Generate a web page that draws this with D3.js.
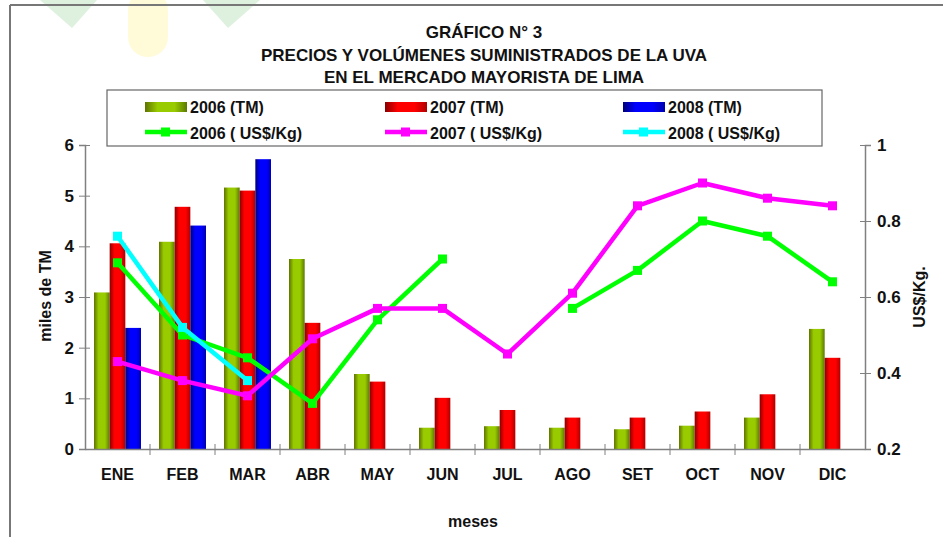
<!DOCTYPE html>
<html>
<head>
<meta charset="utf-8">
<script src="https://cdn.jsdelivr.net/npm/d3@7"></script>
<style>
  body { margin: 0; background: #fff; }
  text { font-family: "Liberation Sans", Arial, sans-serif; font-weight: bold; fill: #111; }
</style>
</head>
<body>
<div id="chart"></div>
<script>
// data
const months = ["ENE", "FEB", "MAR", "ABR", "MAY", "JUN", "JUL", "AGO", "SET", "OCT", "NOV", "DIC"];
const tm2006 = [3.09, 4.09, 5.16, 3.75, 1.48, 0.42, 0.45, 0.42, 0.39, 0.46, 0.62, 2.37];
const tm2007 = [4.06, 4.78, 5.10, 2.49, 1.33, 1.01, 0.77, 0.62, 0.62, 0.74, 1.08, 1.80];
const tm2008 = [2.39, 4.41, 5.72, null, null, null, null, null, null, null, null, null];
const usd2006 = [0.69, 0.50, 0.44, 0.32, 0.54, 0.70, null, 0.57, 0.67, 0.80, 0.76, 0.64];
const usd2007 = [0.43, 0.38, 0.34, 0.49, 0.57, 0.57, 0.45, 0.61, 0.84, 0.90, 0.86, 0.84];
const usd2008 = [0.76, 0.52, 0.38, null, null, null, null, null, null, null, null, null];
const leftTicks = [0, 1, 2, 3, 4, 5, 6];
const rightTicks = [0.2, 0.4, 0.6, 0.8, 1];
const titleLines = ["GRÁFICO N° 3", "PRECIOS Y VOLÚMENES SUMINISTRADOS DE LA UVA", "EN EL MERCADO MAYORISTA DE LIMA"];

const W = 943, H = 537;
const plot = { left: 85, right: 865, top: 145, bottom: 449 };

const svg = d3.select("#chart").append("svg")
  .attr("width", W)
  .attr("height", H);

// gradients for the bars
const defs = svg.append("defs");
const grads = [
  { id: "g2006", c: ["#5f7300", "#99cc00", "#99cc00", "#5c7a00"] },
  { id: "g2007", c: ["#8a0000", "#ff0000", "#ff0000", "#b00000"] },
  { id: "g2008", c: ["#000078", "#0000ff", "#0000ff", "#0000b0"] }
];
grads.forEach(g => {
  const lg = defs.append("linearGradient").attr("id", g.id)
    .attr("x1", 0).attr("x2", 1).attr("y1", 0).attr("y2", 0);
  [0, 0.3, 0.7, 1].forEach((o, i) => lg.append("stop").attr("offset", o).attr("stop-color", g.c[i]));
});

// faint logo watermark, top left
const wm = svg.append("g").attr("opacity", 0.18);
wm.append("path").attr("d", "M40,0 L97,0 L72,28 Z").attr("fill", "#4caf50");
wm.append("path").attr("d", "M203,0 L260,0 L228,28 Z").attr("fill", "#4caf50");
wm.append("rect").attr("x", 128).attr("y", -10).attr("width", 40).attr("height", 67)
  .attr("rx", 20).attr("fill", "#ffee33");

// frame
svg.append("line").attr("x1", 10).attr("x2", W).attr("y1", 5).attr("y2", 5)
  .attr("stroke", "#777").attr("stroke-width", 2);
svg.append("line").attr("x1", 10).attr("x2", 10).attr("y1", 5).attr("y2", H)
  .attr("stroke", "#777").attr("stroke-width", 2);

// title
svg.selectAll(".title").data(titleLines).enter().append("text")
  .attr("class", "title")
  .attr("x", 484)
  .attr("y", (d, i) => 38 + i * 22.5)
  .attr("text-anchor", "middle")
  .style("font-size", "17px")
  .text(d => d);

// scales
const x = d3.scaleBand().domain(months).range([plot.left, plot.right]).padding(0);
const xSub = d3.scaleBand().domain(["2006", "2007", "2008"]).range([9, 56]).padding(0);
const yL = d3.scaleLinear().domain([0, 6]).range([plot.bottom, plot.top]);
const yR = d3.scaleLinear().domain([0.2, 1]).range([plot.bottom, plot.top]);

// bars
const barSeries = [
  { key: "2006", vals: tm2006 },
  { key: "2007", vals: tm2007 },
  { key: "2008", vals: tm2008 }
];
barSeries.forEach(s => {
  svg.append("g").selectAll("rect")
    .data(months.map((m, i) => ({ m, v: s.vals[i] })).filter(d => d.v != null))
    .enter().append("rect")
    .attr("x", d => x(d.m) + xSub(s.key))
    .attr("y", d => yL(d.v))
    .attr("width", xSub.bandwidth())
    .attr("height", d => yL(0) - yL(d.v))
    .attr("fill", `url(#g${s.key})`);
});

// axes
const axisColor = "#808080";
const gl = svg.append("g")
  .attr("transform", `translate(${plot.left},0)`)
  .call(d3.axisLeft(yL).tickValues(leftTicks).tickSize(6).tickPadding(5).tickFormat(d3.format("d")));
gl.selectAll(".tick line").attr("x1", 5);
gl.selectAll(".tick text").style("font-size", "17px");

const gr = svg.append("g")
  .attr("transform", `translate(${plot.right},0)`)
  .call(d3.axisRight(yR).tickValues(rightTicks).tickSize(6).tickPadding(6).tickFormat(d3.format("")));
gr.selectAll(".tick line").attr("x1", -5);
gr.selectAll(".tick text").style("font-size", "17px");

const gb = svg.append("g")
  .attr("transform", `translate(0,${plot.bottom})`)
  .call(d3.axisBottom(x).tickSize(0).tickPadding(20));
gb.selectAll(".tick text").style("font-size", "16px");

// category boundary ticks on the x axis
svg.append("g").selectAll("line")
  .data(months.slice(1))
  .enter().append("line")
  .attr("x1", d => x(d)).attr("x2", d => x(d))
  .attr("y1", plot.bottom - 5).attr("y2", plot.bottom + 6)
  .attr("stroke", axisColor);

[gl, gr, gb].forEach(g => {
  g.selectAll(".domain").attr("stroke", axisColor).attr("stroke-width", 1.5);
  g.selectAll(".tick line").attr("stroke", axisColor);
  g.selectAll(".tick text").attr("fill", "#111").style("font-family", "Liberation Sans, Arial, sans-serif")
    .style("font-weight", "bold");
});

// axis titles
svg.append("text")
  .attr("transform", "rotate(-90)")
  .attr("x", -296).attr("y", 51)
  .attr("text-anchor", "middle")
  .style("font-size", "16px")
  .text("miles de TM");

svg.append("text")
  .attr("transform", "rotate(-90)")
  .attr("x", -297).attr("y", 925)
  .attr("text-anchor", "middle")
  .style("font-size", "16px")
  .text("US$/Kg.");

svg.append("text")
  .attr("x", 473).attr("y", 527)
  .attr("text-anchor", "middle")
  .style("font-size", "16px")
  .text("meses");

// price lines
const lineSeries = [
  { vals: usd2006, color: "#00ff00" },
  { vals: usd2007, color: "#ff00ff" },
  { vals: usd2008, color: "#00ffff" }
];
const line = d3.line()
  .defined(d => d.v != null)
  .x(d => x(d.m) + x.bandwidth() / 2)
  .y(d => yR(d.v));

lineSeries.forEach(s => {
  const pts = months.map((m, i) => ({ m, v: s.vals[i] }));
  svg.append("path")
    .datum(pts)
    .attr("d", line)
    .attr("fill", "none")
    .attr("stroke", s.color)
    .attr("stroke-width", 4.5)
    .attr("stroke-linejoin", "round");
  svg.append("g").selectAll("rect")
    .data(pts.filter(d => d.v != null))
    .enter().append("rect")
    .attr("x", d => x(d.m) + x.bandwidth() / 2 - 4.5)
    .attr("y", d => yR(d.v) - 4.5)
    .attr("width", 9)
    .attr("height", 9)
    .attr("fill", s.color);
});

// legend
const legend = svg.append("g");
legend.append("rect")
  .attr("x", 107).attr("y", 90)
  .attr("width", 715).attr("height", 56)
  .attr("fill", "#fff")
  .attr("stroke", "#666")
  .attr("stroke-width", 1.2);

const legCols = [145, 385, 623];
const years = ["2006", "2007", "2008"];
years.forEach((yr, i) => {
  const cx = legCols[i];
  legend.append("rect")
    .attr("x", cx).attr("y", 102)
    .attr("width", 42).attr("height", 10)
    .attr("fill", `url(#g${yr})`);
  legend.append("text")
    .attr("x", cx + 45).attr("y", 113)
    .style("font-size", "16px")
    .text(`${yr} (TM)`);

  legend.append("line")
    .attr("x1", cx).attr("x2", cx + 42)
    .attr("y1", 132).attr("y2", 132)
    .attr("stroke", lineSeries[i].color)
    .attr("stroke-width", 4.5);
  legend.append("rect")
    .attr("x", cx + 16).attr("y", 127.5)
    .attr("width", 9).attr("height", 9)
    .attr("fill", lineSeries[i].color);
  legend.append("text")
    .attr("x", cx + 45).attr("y", 139)
    .style("font-size", "16px")
    .text(`${yr} ( US$/Kg)`);
});
</script>
</body>
</html>
